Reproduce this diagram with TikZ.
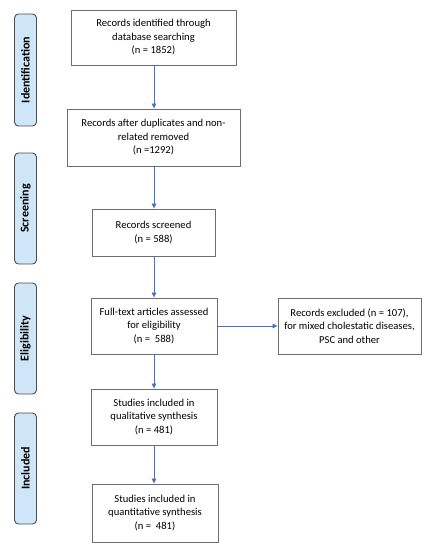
\documentclass[tikz,border=0pt]{standalone}
\usepackage{fontspec}
\setmainfont{Carlito}
\usetikzlibrary{arrows.meta}
\definecolor{arrowblue}{HTML}{4472C4}
\definecolor{sidefill}{HTML}{CFE6F8}
\definecolor{boxline}{HTML}{6E6E6E}
\tikzset{
  box/.style={draw=boxline, line width=0.9pt, fill=white, align=center, inner sep=1pt,
    font=\fontsize{10.6}{13.5}\selectfont},
  side/.style={draw=black!70, line width=0.9pt, fill=sidefill, rounded corners=4pt,
    minimum width=22pt, minimum height=111pt, inner sep=0pt},
  sidetext/.style={rotate=90, font=\bfseries\fontsize{12}{14}\selectfont},
  flow/.style={draw=arrowblue, line width=0.7pt, -{Triangle[length=5pt,width=4.5pt]}}
}
\begin{document}
\begin{tikzpicture}[x=1pt,y=-1pt]
\useasboundingbox (0,0) rectangle (428,550);
% side labels
\node[side, minimum height=112pt] (s1) at (25.5,70) {};
\node[sidetext] (t1) at (s1.center) {Identification};
\node[side] (s2) at (25.5,208.5) {};
\node[sidetext] (t2) at (s2.center) {Screening};
\node[side] (s3) at (25.5,338.5) {};
\node[sidetext] (t3) at (s3.center) {Eligibility};
\node[side] (s4) at (25.5,468.5) {};
\node[sidetext] (t4) at (s4.center) {Included};
% boxes
\node[box, minimum width=165pt, minimum height=55pt] (b1) at (153.5,37.5)
  {Records identified through\\database searching\\(n = 1852)};
\node[box, minimum width=173pt, minimum height=57pt] (b2) at (153.5,137.5)
  {Records after duplicates and non-\\related removed\\(n =1292)};
\node[box, minimum width=123pt, minimum height=47pt] (b3) at (153.5,232.5)
  {Records screened\\(n = 588)};
\node[box, minimum width=126pt, minimum height=56pt] (b4) at (154,326)
  {Full-text articles assessed\\for eligibility\\(n =\ \ 588)};
\node[box, minimum width=143pt, minimum height=56pt] (ex) at (349.5,326)
  {Records excluded (n = 107),\\for mixed cholestatic diseases,\\PSC and other};
\node[box, minimum width=126pt, minimum height=56pt] (b5) at (154,417)
  {Studies included in\\qualitative synthesis\\(n = 481)};
\node[box, minimum width=126pt, minimum height=58pt] (b6) at (155,513)
  {Studies included in\\quantitative synthesis\\(n =\ \ 481)};
% arrows
\draw[flow] (b1.south -| 154,0) -- (b2.north -| 154,0);
\draw[flow] (b2.south -| 154,0) -- (b3.north -| 154,0);
\draw[flow] (b3.south -| 154,0) -- (b4.north -| 154,0);
\draw[flow] (b4.east) -- (ex.west);
\draw[flow] (b4.south -| 154,0) -- (b5.north -| 154,0);
\draw[flow] (b5.south -| 154,0) -- (b6.north -| 154,0);
\end{tikzpicture}
\end{document}
